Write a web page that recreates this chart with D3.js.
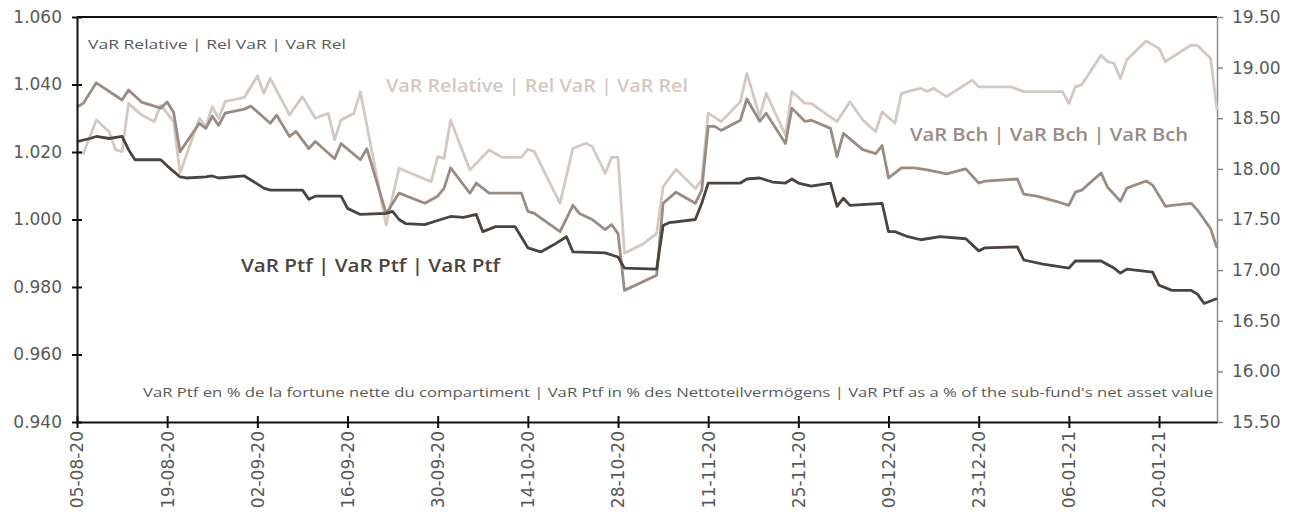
<!DOCTYPE html>
<html>
<head>
<meta charset="utf-8">
<script src="https://cdn.jsdelivr.net/npm/d3@7"></script>
<style>
  body { margin: 0; background: #fff; }
  svg { display: block; }
  .tick text { font-family: "DejaVu Sans", sans-serif; font-size: 17px; fill: #595959; }
</style>
</head>
<body>
<div id="chart"></div>
<script>
// tick labels on the date axis (every 14 days)
const xTickLabels = ["05-08-20", "19-08-20", "02-09-20", "16-09-20", "30-09-20", "14-10-20", "28-10-20",
    "11-11-20", "25-11-20", "09-12-20", "23-12-20", "06-01-21", "20-01-21"];
const leftTicks = [0.94, 0.96, 0.98, 1.00, 1.02, 1.04, 1.06];
const rightTicks = [15.5, 16, 16.5, 17, 17.5, 18, 18.5, 19, 19.5];

// VaR Ptf (right axis, %)
const ptfSeries = [
    ["05-08-20", 18.27], ["07-08-20", 18.30], ["08-08-20", 18.32], ["10-08-20", 18.30], ["12-08-20", 18.32],
    ["13-08-20", 18.19], ["14-08-20", 18.09], ["18-08-20", 18.09], ["19-08-20", 18.03], ["21-08-20", 17.92],
    ["22-08-20", 17.91], ["25-08-20", 17.92], ["26-08-20", 17.93], ["27-08-20", 17.91], ["31-08-20", 17.93],
    ["01-09-20", 17.89], ["03-09-20", 17.81], ["04-09-20", 17.79], ["09-09-20", 17.79], ["10-09-20", 17.70],
    ["11-09-20", 17.73], ["15-09-20", 17.73], ["16-09-20", 17.61], ["18-09-20", 17.55], ["22-09-20", 17.56],
    ["23-09-20", 17.58], ["24-09-20", 17.50], ["25-09-20", 17.46], ["28-09-20", 17.45], ["30-09-20", 17.49],
    ["02-10-20", 17.53], ["04-10-20", 17.52], ["06-10-20", 17.55], ["07-10-20", 17.38], ["09-10-20", 17.43],
    ["12-10-20", 17.43], ["14-10-20", 17.22], ["16-10-20", 17.18], ["18-10-20", 17.25], ["20-10-20", 17.33],
    ["21-10-20", 17.18], ["26-10-20", 17.17], ["28-10-20", 17.13], ["29-10-20", 17.02], ["03-11-20", 17.01],
    ["04-11-20", 17.44], ["05-11-20", 17.47], ["09-11-20", 17.50], ["10-11-20", 17.66], ["11-11-20", 17.86],
    ["16-11-20", 17.86], ["17-11-20", 17.90], ["19-11-20", 17.91], ["21-11-20", 17.87], ["23-11-20", 17.86],
    ["24-11-20", 17.90], ["25-11-20", 17.86], ["27-11-20", 17.83], ["30-11-20", 17.86], ["01-12-20", 17.63],
    ["02-12-20", 17.71], ["03-12-20", 17.64], ["08-12-20", 17.66], ["09-12-20", 17.38], ["10-12-20", 17.38],
    ["12-12-20", 17.33], ["14-12-20", 17.30], ["17-12-20", 17.33], ["21-12-20", 17.31], ["23-12-20", 17.19],
    ["24-12-20", 17.22], ["29-12-20", 17.23], ["30-12-20", 17.10], ["02-01-21", 17.06], ["06-01-21", 17.02],
    ["07-01-21", 17.09], ["11-01-21", 17.09], ["13-01-21", 17.02], ["14-01-21", 16.97], ["15-01-21", 17.01],
    ["19-01-21", 16.98], ["20-01-21", 16.85], ["22-01-21", 16.80], ["25-01-21", 16.80], ["26-01-21", 16.76],
    ["27-01-21", 16.67], ["29-01-21", 16.72]
];

// VaR Bch (right axis, %)
const bchSeries = [
    ["05-08-20", 18.61], ["06-08-20", 18.65], ["08-08-20", 18.85], ["12-08-20", 18.68], ["13-08-20", 18.78],
    ["15-08-20", 18.66], ["18-08-20", 18.60], ["19-08-20", 18.66], ["20-08-20", 18.56], ["21-08-20", 18.17],
    ["24-08-20", 18.45], ["25-08-20", 18.40], ["26-08-20", 18.52], ["27-08-20", 18.43], ["28-08-20", 18.55],
    ["31-08-20", 18.59], ["01-09-20", 18.62], ["04-09-20", 18.45], ["05-09-20", 18.53], ["07-09-20", 18.32],
    ["08-09-20", 18.37], ["10-09-20", 18.20], ["11-09-20", 18.27], ["14-09-20", 18.10], ["15-09-20", 18.25],
    ["18-09-20", 18.09], ["19-09-20", 18.20], ["22-09-20", 17.56], ["24-09-20", 17.76], ["28-09-20", 17.66],
    ["30-09-20", 17.73], ["01-10-20", 17.81], ["02-10-20", 18.01], ["05-10-20", 17.76], ["06-10-20", 17.86],
    ["08-10-20", 17.76], ["13-10-20", 17.76], ["14-10-20", 17.58], ["15-10-20", 17.56], ["19-10-20", 17.38],
    ["21-10-20", 17.64], ["22-10-20", 17.56], ["24-10-20", 17.50], ["26-10-20", 17.40], ["27-10-20", 17.45],
    ["28-10-20", 17.36], ["29-10-20", 16.80], ["03-11-20", 16.95], ["04-11-20", 17.66], ["06-11-20", 17.77],
    ["09-11-20", 17.66], ["10-11-20", 17.79], ["11-11-20", 18.42], ["12-11-20", 18.42], ["13-11-20", 18.38],
    ["16-11-20", 18.48], ["17-11-20", 18.69], ["19-11-20", 18.47], ["20-11-20", 18.55], ["23-11-20", 18.25],
    ["24-11-20", 18.60], ["26-11-20", 18.47], ["27-11-20", 18.48], ["30-11-20", 18.40], ["01-12-20", 18.12],
    ["02-12-20", 18.35], ["05-12-20", 18.19], ["07-12-20", 18.15], ["08-12-20", 18.23], ["09-12-20", 17.91],
    ["11-12-20", 18.01], ["13-12-20", 18.01], ["15-12-20", 17.99], ["18-12-20", 17.95], ["21-12-20", 18.00],
    ["23-12-20", 17.86], ["24-12-20", 17.88], ["29-12-20", 17.90], ["30-12-20", 17.75], ["01-01-21", 17.73],
    ["04-01-21", 17.68], ["06-01-21", 17.64], ["07-01-21", 17.77], ["08-01-21", 17.79], ["11-01-21", 17.96],
    ["12-01-21", 17.82], ["14-01-21", 17.68], ["15-01-21", 17.81], ["18-01-21", 17.88], ["19-01-21", 17.84],
    ["21-01-21", 17.63], ["22-01-21", 17.64], ["25-01-21", 17.66], ["26-01-21", 17.59], ["27-01-21", 17.50],
    ["28-01-21", 17.41], ["29-01-21", 17.22]
];

// VaR Relative (left axis)
const relSeries = [
    ["05-08-20", 1.0201], ["06-08-20", 1.0196], ["08-08-20", 1.0295], ["10-08-20", 1.0260], ["11-08-20", 1.0206],
    ["12-08-20", 1.0201], ["13-08-20", 1.0344], ["15-08-20", 1.0310], ["17-08-20", 1.0290], ["18-08-20", 1.0339],
    ["20-08-20", 1.0290], ["21-08-20", 1.0137], ["24-08-20", 1.0300], ["25-08-20", 1.0275], ["26-08-20", 1.0334],
    ["27-08-20", 1.0300], ["28-08-20", 1.0349], ["31-08-20", 1.0362], ["02-09-20", 1.0425], ["03-09-20", 1.0374],
    ["04-09-20", 1.0418], ["07-09-20", 1.0310], ["09-09-20", 1.0364], ["11-09-20", 1.0300], ["13-09-20", 1.0315],
    ["14-09-20", 1.0236], ["15-09-20", 1.0295], ["17-09-20", 1.0315], ["18-09-20", 1.0378], ["22-09-20", 0.9984],
    ["24-09-20", 1.0152], ["29-09-20", 1.0112], ["30-09-20", 1.0186], ["01-10-20", 1.0181], ["02-10-20", 1.0295],
    ["05-10-20", 1.0147], ["08-10-20", 1.0206], ["10-10-20", 1.0184], ["13-10-20", 1.0184], ["14-10-20", 1.0208],
    ["15-10-20", 1.0201], ["19-10-20", 1.0048], ["21-10-20", 1.0211], ["23-10-20", 1.0226], ["24-10-20", 1.0216],
    ["26-10-20", 1.0137], ["27-10-20", 1.0184], ["28-10-20", 1.0184], ["29-10-20", 0.9900], ["01-11-20", 0.9929],
    ["03-11-20", 0.9959], ["04-11-20", 1.0097], ["06-11-20", 1.0149], ["09-11-20", 1.0092], ["10-11-20", 1.0117],
    ["11-11-20", 1.0315], ["13-11-20", 1.0290], ["16-11-20", 1.0349], ["17-11-20", 1.0433], ["19-11-20", 1.0305],
    ["20-11-20", 1.0374], ["23-11-20", 1.0250], ["24-11-20", 1.0379], ["26-11-20", 1.0344], ["27-11-20", 1.0344],
    ["01-12-20", 1.0290], ["03-12-20", 1.0349], ["05-12-20", 1.0295], ["07-12-20", 1.0260], ["08-12-20", 1.0319],
    ["10-12-20", 1.0285], ["11-12-20", 1.0374], ["14-12-20", 1.0389], ["15-12-20", 1.0379], ["16-12-20", 1.0389],
    ["18-12-20", 1.0364], ["22-12-20", 1.0413], ["23-12-20", 1.0393], ["28-12-20", 1.0393], ["30-12-20", 1.0379],
    ["05-01-21", 1.0379], ["06-01-21", 1.0344], ["07-01-21", 1.0393], ["08-01-21", 1.0399], ["11-01-21", 1.0487],
    ["12-01-21", 1.0468], ["13-01-21", 1.0463], ["14-01-21", 1.0418], ["15-01-21", 1.0473], ["18-01-21", 1.0529],
    ["20-01-21", 1.0507], ["21-01-21", 1.0468], ["25-01-21", 1.0517], ["26-01-21", 1.0515], ["28-01-21", 1.0478],
    ["29-01-21", 1.0324]
];

const darkColor = "#4b433e";
const midColor = "#9a8c84";
const lightColor = "#d3c9c2";
const textColor = "#595959";

function createVarChart() {
    const W = 1301, H = 517;
    const plot = { left: 77, right: 1217, top: 17, bottom: 422 };
    const parseDay = d3.timeParse("%d-%m-%y");

    const svg = d3.select("#chart").append("svg")
        .attr("width", W)
        .attr("height", H);

    const x = d3.scaleTime()
        .domain([parseDay("05-08-20"), parseDay("29-01-21")])
        .range([plot.left, plot.right]);
    const yLeft = d3.scaleLinear().domain([0.94, 1.06]).range([plot.bottom, plot.top]);
    const yRight = d3.scaleLinear().domain([15.5, 19.5]).range([plot.bottom, plot.top]);

    // top frame line
    svg.append("line")
        .attr("x1", plot.left).attr("x2", plot.right)
        .attr("y1", plot.top).attr("y2", plot.top)
        .attr("stroke", "#111").attr("stroke-width", 2);

    // right axis (grey, outward ticks)
    const rightAxis = svg.append("g")
        .attr("transform", `translate(${plot.right},0)`)
        .call(d3.axisRight(yRight).tickValues(rightTicks).tickFormat(d3.format(".2f"))
            .tickSizeInner(6).tickSizeOuter(0).tickPadding(9));
    rightAxis.select(".domain").attr("stroke", "#8c8c8c").attr("stroke-width", 1.5);
    rightAxis.selectAll(".tick line").attr("stroke", "#8c8c8c").attr("stroke-width", 1.5);

    // series lines
    const lineRight = d3.line().x(d => x(parseDay(d[0]))).y(d => yRight(d[1]));
    const lineLeft = d3.line().x(d => x(parseDay(d[0]))).y(d => yLeft(d[1]));

    const series = [
        { data: relSeries, line: lineLeft, color: lightColor },
        { data: bchSeries, line: lineRight, color: midColor },
        { data: ptfSeries, line: lineRight, color: darkColor }
    ];
    svg.selectAll("path.series")
        .data(series)
        .enter()
        .append("path")
        .attr("class", "series")
        .attr("fill", "none")
        .attr("stroke", d => d.color)
        .attr("stroke-width", 2.8)
        .attr("stroke-linejoin", "round")
        .attr("d", d => d.line(d.data));

    // left axis (black, crossing ticks)
    const leftAxis = svg.append("g")
        .attr("transform", `translate(${plot.left},0)`)
        .call(d3.axisLeft(yLeft).tickValues(leftTicks).tickFormat(d3.format(".3f"))
            .tickSizeInner(5).tickSizeOuter(0).tickPadding(10));
    leftAxis.select(".domain").attr("stroke", "#111").attr("stroke-width", 2);
    leftAxis.selectAll(".tick line").attr("x1", 5).attr("stroke", "#111").attr("stroke-width", 2);

    // bottom axis (black, crossing ticks, rotated labels)
    const bottomAxis = svg.append("g")
        .attr("transform", `translate(0,${plot.bottom})`)
        .call(d3.axisBottom(x).tickValues(xTickLabels.map(parseDay)).tickFormat(d3.timeFormat("%d-%m-%y"))
            .tickSizeInner(6).tickSizeOuter(0));
    bottomAxis.select(".domain").attr("stroke", "#111").attr("stroke-width", 2);
    bottomAxis.selectAll(".tick line").attr("y1", -6).attr("stroke", "#111").attr("stroke-width", 2);
    bottomAxis.selectAll(".tick text")
        .attr("transform", "rotate(-90)")
        .attr("x", -9)
        .attr("y", 0)
        .attr("dy", "0.35em")
        .style("text-anchor", "end");

    // annotations
    const notes = [
        { text: "VaR Relative | Rel VaR | VaR Rel", x: 88, y: 49, size: 13, weight: 400, color: textColor, len: 258 },
        { text: "VaR Relative | Rel VaR | VaR Rel", x: 386, y: 92, size: 18, weight: 600, color: lightColor, len: 302 },
        { text: "VaR Bch | VaR Bch | VaR Bch", x: 910, y: 141, size: 18, weight: 600, color: midColor, len: 278 },
        { text: "VaR Ptf | VaR Ptf | VaR Ptf", x: 241, y: 272, size: 18, weight: 600, color: darkColor, len: 259 },
        { text: "VaR Ptf en % de la fortune nette du compartiment | VaR Ptf in % des Nettoteilvermögens | VaR Ptf as a % of the sub-fund's net asset value",
          x: 143, y: 397, size: 12.5, weight: 400, color: textColor, len: 1070 }
    ];
    svg.selectAll("text.note")
        .data(notes)
        .enter()
        .append("text")
        .attr("class", "note")
        .attr("x", d => d.x)
        .attr("y", d => d.y)
        .attr("textLength", d => d.len)
        .attr("lengthAdjust", "spacingAndGlyphs")
        .style("font-family", "'Open Sans', 'Noto Sans', sans-serif")
        .style("font-size", d => d.size + "px")
        .style("font-weight", d => d.weight)
        .style("fill", d => d.color)
        .text(d => d.text);
}

createVarChart();
</script>
</body>
</html>
